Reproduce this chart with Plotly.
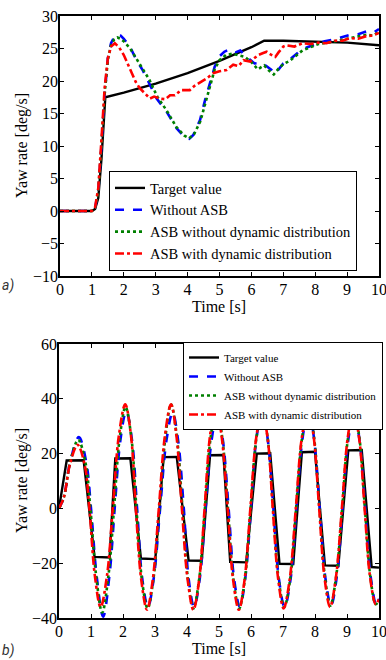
import plotly.graph_objects as go

# ---------------- top chart (a) ----------------
a_target_t = [0, 1.0, 1.1, 1.2, 1.3, 1.42, 2.0, 3.0, 4.0, 5.0, 6.0, 6.4, 7.0, 8.0, 9.0, 10.0]
a_target_y = [0, 0, 0.3, 2.0, 8.0, 17.5, 18.2, 19.6, 21.2, 23.1, 25.2, 26.2, 26.2, 26.0, 25.9, 25.5]

a_blue_t = [0, 1.0, 1.1, 1.2, 1.3, 1.4, 1.5, 1.6, 1.7, 1.8, 1.9, 2.0, 2.2, 2.4, 2.6, 2.77,
            3.03, 3.34, 3.66, 3.92, 4.05, 4.18, 4.39, 4.55, 4.7, 4.85, 5.0, 5.15, 5.33, 5.5,
            5.65, 5.85, 6.1, 6.32, 6.5, 6.63, 6.74, 6.85, 7.0, 7.15, 7.31, 7.52, 7.75, 8.03,
            8.3, 8.6, 8.85, 9.1, 9.35, 9.65, 9.85, 10.0]
a_blue_y = [0, 0, 0.5, 3.0, 10.0, 18.0, 23.5, 25.8, 26.8, 27.2, 27.0, 26.5, 25.2, 23.2, 21.6, 19.9,
            17.3, 15.3, 12.7, 11.3, 11.1, 11.7, 14.0, 17.1, 19.6, 22.2, 23.8, 24.5, 24.9, 24.4,
            24.7, 23.7, 22.7, 22.8, 22.2, 21.7, 21.1, 21.8, 22.7, 23.1, 23.7, 24.6, 25.2, 25.6,
            26.1, 26.4, 26.7, 27.1, 27.2, 27.7, 27.5, 28.0]

a_green_t = [0, 1.0, 1.1, 1.2, 1.3, 1.4, 1.5, 1.6, 1.7, 1.8, 1.9, 2.0, 2.2, 2.4, 2.6, 2.8,
             3.05, 3.35, 3.65, 3.9, 4.05, 4.2, 4.4, 4.55, 4.7, 4.85, 5.0, 5.2, 5.4, 5.6,
             5.8, 6.0, 6.2, 6.4, 6.55, 6.7, 6.85, 7.0, 7.2, 7.4, 7.6, 7.85, 8.1, 8.4,
             8.7, 9.0, 9.3, 9.6, 9.8, 10.0]
a_green_y = [0, 0, 0.5, 3.0, 10.0, 18.0, 23.3, 25.5, 26.4, 26.7, 26.5, 26.1, 25.0, 23.4, 21.9, 20.2,
             17.6, 15.4, 12.9, 11.6, 11.2, 11.8, 13.8, 16.6, 19.3, 21.8, 23.2, 24.0, 24.2, 24.0,
             23.7, 22.9, 21.8, 22.4, 21.6, 21.0, 21.9, 22.6, 23.1, 23.9, 24.7, 25.2, 25.7, 25.9,
             26.2, 26.5, 26.8, 27.1, 27.0, 27.5]

a_red_t = [0, 1.0, 1.1, 1.2, 1.3, 1.4, 1.5, 1.6, 1.72, 1.85, 2.0, 2.12, 2.25, 2.38, 2.5, 2.65,
           2.82, 2.95, 3.13, 3.3, 3.45, 3.6, 3.8, 4.07, 4.2, 4.33, 4.6, 4.8, 5.0, 5.22, 5.43,
           5.6, 5.75, 5.96, 6.1, 6.22, 6.37, 6.48, 6.63, 6.75, 6.85, 7.0, 7.1, 7.35, 7.6,
           7.85, 8.1, 8.35, 8.6, 8.85, 9.1, 9.35, 9.6, 9.8, 10.0]
a_red_y = [0, 0, 0.6, 3.5, 11.0, 19.0, 23.5, 25.3, 25.8, 25.2, 24.0, 22.6, 21.2, 19.8, 18.9, 18.2,
           17.3, 17.6, 17.3, 17.2, 17.8, 17.8, 18.6, 18.6, 19.2, 19.6, 20.4, 21.2, 21.5, 21.7, 22.5,
           22.3, 23.2, 23.0, 23.5, 24.0, 24.3, 24.5, 24.0, 23.7, 24.4, 25.3, 25.5, 25.3, 25.8,
           25.7, 25.9, 25.8, 26.2, 26.2, 26.6, 26.5, 26.9, 27.0, 27.4]

# ---------------- bottom chart (b) ----------------
b_target_t = [0, 0.24, 0.77, 1.11, 1.58, 1.76, 2.23, 2.56, 3.01, 3.27, 3.68, 4.05, 4.46,
              4.72, 5.14, 5.35, 5.85, 6.18, 6.6, 6.89, 7.32, 7.59, 8.0, 8.31, 8.73,
              9.04, 9.46, 9.77, 10.0]
b_target_y = [0, 17.5, 17.6, -17.7, -17.9, 18.2, 18.3, -18.3, -18.5, 18.7, 18.8, -19.0, -19.1,
              19.4, 19.5, -19.5, -19.7, 20.0, 20.1, -20.2, -20.3, 20.5, 20.7, -20.8, -20.9,
              21.2, 21.3, -21.4, -21.6]

b_blue_t = [0, 0.15, 0.35, 0.62, 0.85, 1.0, 1.18, 1.38, 1.58, 1.74, 1.92, 2.1, 2.28, 2.44,
            2.6, 2.78, 2.96, 3.16, 3.36, 3.55, 3.72, 3.9, 4.05, 4.22, 4.4, 4.58, 4.77, 4.95,
            5.12, 5.3, 5.47, 5.65, 5.82, 6.0, 6.17, 6.35, 6.52, 6.7, 6.87, 7.05, 7.24, 7.42,
            7.61, 7.8, 7.97, 8.15, 8.32, 8.5, 8.68, 8.86, 9.04, 9.22, 9.39, 9.57, 9.74, 9.92, 10.0]
b_blue_y = [0, 4.0, 17.0, 26.0, 17.0, 0, -25.0, -39.5, -24.0, 0, 25.0, 35.5, 25.0, 0,
            -25.5, -36.0, -25.5, 0, 25.0, 35.0, 25.0, 0, -25.5, -36.0, -25.5, 0, 25.0, 35.0,
            25.0, 0, -25.5, -36.0, -25.5, 0, 25.5, 36.0, 25.5, 0, -25.5, -36.0, -25.5, 0,
            25.5, 36.5, 25.5, 0, -25.0, -35.5, -25.0, 0, 25.0, 35.5, 25.0, 0, -25.0, -35.5, -33.0]

b_green_t = [0, 0.15, 0.35, 0.6, 0.83, 0.98, 1.16, 1.35, 1.55, 1.72, 1.9, 2.08, 2.26, 2.42,
             2.59, 2.77, 2.95, 3.14, 3.33, 3.5, 3.68, 3.86, 4.03, 4.2, 4.38, 4.56, 4.74, 4.92,
             5.1, 5.28, 5.45, 5.63, 5.81, 5.99, 6.17, 6.35, 6.52, 6.69, 6.86, 7.04, 7.23, 7.41,
             7.6, 7.8, 7.97, 8.14, 8.31, 8.48, 8.66, 8.85, 9.03, 9.22, 9.39, 9.56, 9.73, 9.9, 10.0]
b_green_y = [0, 4.0, 17.0, 25.0, 16.5, 0, -24.5, -38.0, -24.0, 0, 26.0, 37.0, 26.0, 0,
             -25.8, -36.5, -25.8, 0, 26.5, 38.0, 26.5, 0, -25.8, -36.5, -25.8, 0, 26.0, 37.0,
             26.0, 0, -25.8, -36.5, -25.8, 0, 25.8, 36.5, 25.8, 0, -25.5, -36.0, -25.5, 0,
             26.0, 37.0, 26.0, 0, -25.0, -35.5, -25.0, 0, 25.5, 36.0, 25.5, 0, -25.0, -35.0, -33.5]

b_red_t = [0, 0.15, 0.35, 0.58, 0.8, 0.95, 1.12, 1.3, 1.5, 1.68, 1.87, 2.07, 2.25, 2.4,
           2.57, 2.75, 2.93, 3.12, 3.31, 3.5, 3.67, 3.84, 4.02, 4.2, 4.38, 4.55, 4.72, 4.9,
           5.08, 5.27, 5.44, 5.62, 5.8, 5.98, 6.16, 6.34, 6.52, 6.68, 6.85, 7.02, 7.21, 7.4,
           7.59, 7.79, 7.96, 8.13, 8.3, 8.47, 8.65, 8.84, 9.02, 9.2, 9.38, 9.55, 9.72, 9.9, 10.0]
b_red_y = [0, 4.0, 16.5, 23.2, 16.0, 0, -24.5, -36.0, -24.5, 0, 26.5, 38.0, 26.5, 0,
           -26.0, -37.0, -26.0, 0, 26.5, 38.0, 26.5, 0, -26.0, -37.0, -26.0, 0, 26.5, 37.5,
           26.5, 0, -26.0, -37.0, -26.0, 0, 25.5, 36.0, 25.5, 0, -25.8, -36.5, -25.8, 0,
           26.0, 36.5, 26.0, 0, -25.5, -36.0, -25.5, 0, 25.5, 36.0, 25.5, 0, -25.0, -35.0, -33.0]

names = ["Target value", "Without ASB", "ASB without dynamic distribution",
         "ASB with dynamic distribution"]
colors = ["#000000", "#0000FF", "#008000", "#FF0000"]
dashes = ["solid", "dash", "dot", "dashdot"]

SERIF = "Liberation Serif"

fig = go.Figure()

top = [(a_target_t, a_target_y), (a_blue_t, a_blue_y), (a_green_t, a_green_y), (a_red_t, a_red_y)]
for i, (t, y) in enumerate(top):
    fig.add_trace(go.Scatter(x=t, y=y, mode="lines", name=names[i], legend="legend",
                             line=dict(color=colors[i], dash=dashes[i], width=2.6 if i else 2.4),
                             xaxis="x", yaxis="y"))

bot = [(b_target_t, b_target_y), (b_blue_t, b_blue_y), (b_green_t, b_green_y), (b_red_t, b_red_y)]
for i, (t, y) in enumerate(bot):
    fig.add_trace(go.Scatter(x=t, y=y, mode="lines", name=names[i], legend="legend2",
                             line=dict(color=colors[i], dash=dashes[i], width=2.6 if i else 2.4,
                                       shape="linear" if i == 0 else "spline", smoothing=1.0),
                             xaxis="x2", yaxis="y2"))

W, H = 386, 660
axis_common = dict(showline=True, linecolor="black", linewidth=1.5, mirror="ticks",
                   ticks="inside", ticklen=4, tickcolor="black", showgrid=False, zeroline=False,
                   automargin=False, ticklabeloverflow="allow",
                   tickfont=dict(family=SERIF, size=16, color="black"))

fig.update_layout(
    template="none",
    width=W, height=H, autosize=False, margin=dict(l=0, r=0, t=0, b=0, pad=0),
    paper_bgcolor="white", plot_bgcolor="white", showlegend=True,
    font=dict(family=SERIF, color="black"),
    xaxis=dict(domain=[60 / W, 379 / W], range=[0, 10], dtick=1, anchor="y",
               ticklabelstandoff=-2, **axis_common),
    yaxis=dict(domain=[1 - 276 / H, 1 - 16 / H], range=[-10, 30], dtick=5, anchor="x",
               ticklabelstandoff=-3, **axis_common),
    xaxis2=dict(domain=[59 / W, 379 / W], range=[0, 10], dtick=1, anchor="y2",
                ticklabelstandoff=-2, **axis_common),
    yaxis2=dict(domain=[1 - 618 / H, 1 - 344 / H], range=[-40, 60], dtick=20, anchor="x2",
                ticklabelstandoff=-3, **axis_common),
    legend=dict(x=109 / W, y=1 - 271 / H, xanchor="left", yanchor="bottom",
                bordercolor="black", borderwidth=1, bgcolor="white",
                font=dict(family=SERIF, size=14.5, color="black"), tracegroupgap=0,
                itemwidth=30),
    legend2=dict(x=183 / W, y=1 - 342 / H, xanchor="left", yanchor="top",
                 bordercolor="black", borderwidth=1, bgcolor="white",
                 font=dict(family=SERIF, size=11, color="black"), tracegroupgap=0,
                 itemwidth=30),
)

ann = [
    dict(text="Yaw rate [deg/s]", x=22 / W, y=1 - 146 / H, textangle=-90),
    dict(text="Time [s]", x=219 / W, y=1 - 307 / H),
    dict(text="Yaw rate [deg/s]", x=22 / W, y=1 - 481 / H, textangle=-90),
    dict(text="Time [s]", x=219 / W, y=1 - 648 / H),
]
for a in ann:
    fig.add_annotation(xref="paper", yref="paper", showarrow=False,
                       xanchor="center", yanchor="middle",
                       font=dict(family=SERIF, size=16, color="black"), **a)

for lbl, yy in [("a)", 285), ("b)", 650)]:
    fig.add_annotation(text="<i>" + lbl + "</i>", xref="paper", yref="paper", x=0, y=1 - yy / H,
                       xanchor="left", yanchor="middle", showarrow=False,
                       font=dict(family="Roboto", size=14, color="#333333"))

fig.write_html("out.html", config={"displayModeBar": False})
